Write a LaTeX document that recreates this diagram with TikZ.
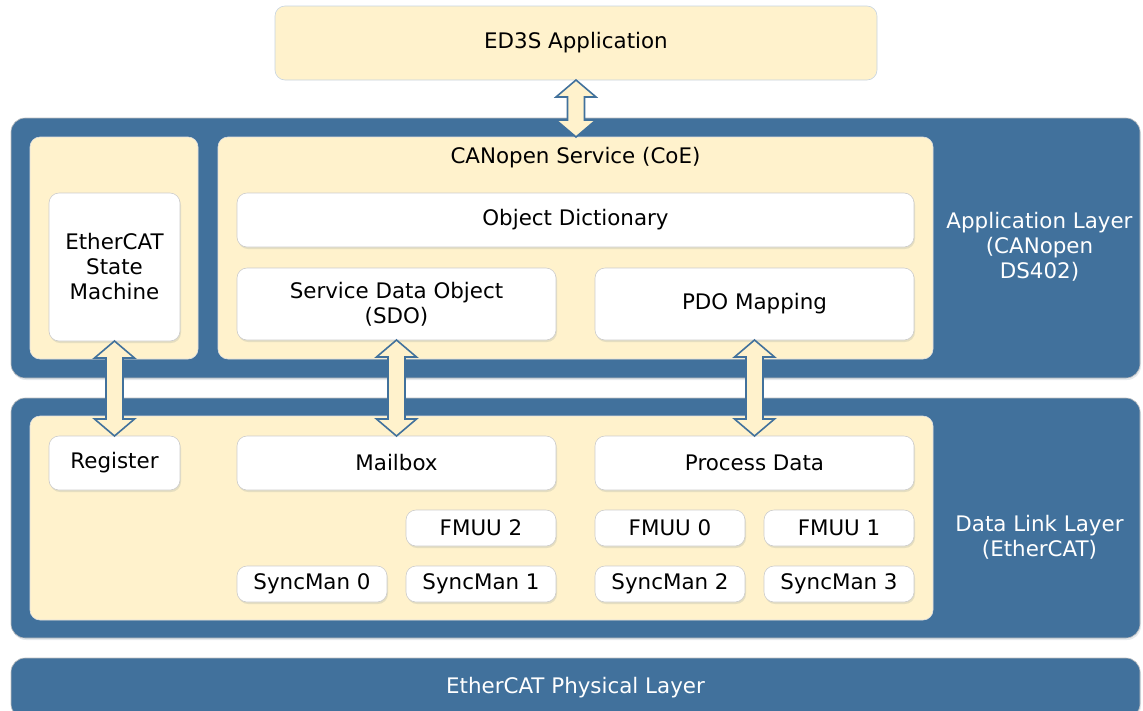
\documentclass[tikz,border=0pt]{standalone}
\usepackage{fontspec}
\setmainfont{DejaVu Sans}
\usetikzlibrary{calc,shadows}
\definecolor{layerblue}{RGB}{65,113,156}
\definecolor{cream}{RGB}{255,242,204}
\newcommand{\boxnode}[7]{\node[#1,minimum width={(#5-#3)*1pt},minimum height={(#6-#4)*1pt}] (#2) at ({(#3+#5)/2},{(#4+#6)/2}) {#7};}
\newcommand{\dblarrow}[2]{\draw[linkarrow] let \p1=(#1), \p2=(#2) in (\x1,\y1)--++(20pt,-17pt)--++(-11.5pt,0pt)--(\x1+8.5pt,\y2+17pt)--++(11.5pt,0pt)--(\x1,\y2)--++(-20pt,17pt)--++(11.5pt,0pt)--(\x1-8.5pt,\y1-17pt)--++(-11.5pt,0pt)--cycle;}

\begin{document}
\begin{tikzpicture}[x=1pt,y=-1pt,
  every node/.style={inner sep=0pt,outer sep=0pt,font=\fontsize{21.4}{25}\selectfont,align=center},
  softshadow/.style={drop shadow={shadow xshift=1pt,shadow yshift=-2pt,opacity=0.12,fill=layerblue!70!black}},
  layerbox/.style={draw=black!25,line width=0.6pt,fill=layerblue,rounded corners=14pt,softshadow,text=white},
  creambox/.style={draw=black!12,line width=0.6pt,fill=cream,rounded corners=10pt},
  whitebox/.style={draw=black!20,line width=0.6pt,fill=white,rounded corners=10pt,softshadow},
  layertext/.style={text=white},
  linkarrow/.style={draw=layerblue,fill=cream,line width=1.6pt,line join=miter}]
\useasboundingbox (0,0) rectangle (1143,710);
% application on top
\boxnode{creambox,draw=layerblue!30}{ed3s}{275}{6}{877}{80}{ED3S Application}
% application layer
\boxnode{layerbox}{applayer}{11}{118}{1140}{378}{}
\boxnode{creambox}{esmarea}{30}{137}{198}{359}{}
\boxnode{whitebox}{esm}{49}{193}{180}{341}{EtherCAT\\State\\Machine}
\boxnode{creambox}{coe}{218}{137}{933}{359}{}
\node (coetitle) at (575.5,158) {CANopen Service (CoE)};
\boxnode{whitebox}{objdict}{237}{193}{914}{247}{Object Dictionary}
\boxnode{whitebox}{sdo}{237}{268}{556}{340}{Service Data Object\\(SDO)}
\boxnode{whitebox}{pdo}{595}{268}{914}{340}{PDO Mapping}
\node[layertext] (applabel) at (1039.5,247) {Application Layer\\(CANopen\\DS402)};
% data link layer
\boxnode{layerbox}{dlllayer}{11}{398}{1140}{638}{}
\boxnode{creambox}{dllarea}{30}{416}{933}{620}{}
\boxnode{whitebox}{register}{49}{436}{180}{490}{Register}
\boxnode{whitebox}{mailbox}{237}{436}{556}{490}{Mailbox}
\boxnode{whitebox}{procdata}{595}{436}{914}{490}{Process Data}
\boxnode{whitebox}{fmmu2}{406}{510}{556}{546}{FMUU 2}
\boxnode{whitebox}{fmmu0}{595}{510}{745}{546}{FMUU 0}
\boxnode{whitebox}{fmmu1}{764}{510}{914}{546}{FMUU 1}
\boxnode{whitebox}{sm0}{237}{566}{387}{602}{SyncMan 0}
\boxnode{whitebox}{sm1}{406}{566}{556}{602}{SyncMan 1}
\boxnode{whitebox}{sm2}{595}{566}{745}{602}{SyncMan 2}
\boxnode{whitebox}{sm3}{764}{566}{914}{602}{SyncMan 3}
\node[layertext] (dlllabel) at (1039.5,537.5) {Data Link Layer\\(EtherCAT)};
% physical layer
\boxnode{layerbox}{phylayer}{11}{658}{1140}{718}{EtherCAT Physical Layer}
% links
\dblarrow{ed3s.south}{coe.north}
\dblarrow{esm.south}{register.north}
\dblarrow{sdo.south}{mailbox.north}
\dblarrow{pdo.south}{procdata.north}
\end{tikzpicture}
\end{document}
